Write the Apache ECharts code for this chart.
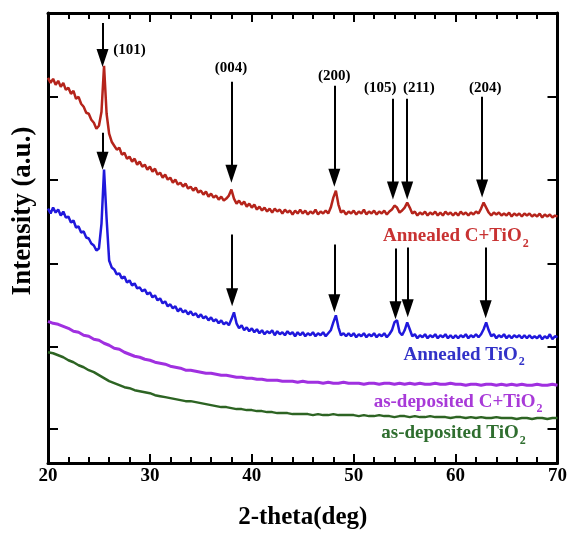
<!DOCTYPE html>
<html>
<head>
<meta charset="utf-8">
<script src="https://cdn.jsdelivr.net/npm/echarts@6/dist/echarts.min.js"></script>
<style>
  html, body { margin: 0; background: #fff; }
  #chart { width: 570px; height: 535px; }
</style>
</head>
<body>
<div id="chart"></div>
<script>
// 2-theta grids (deg): annealed scans read every 0.25, as-deposited every 0.5
const THETA_START = 20;
const FINE_STEP = 0.25;
const COARSE_STEP = 0.5;
const xMajorTicks = [20, 30, 40, 50, 60, 70];
const xMinorTicks = [22, 24, 26, 28, 32, 34, 36, 38, 42, 44, 46, 48, 52, 54, 56, 58, 62, 64, 66, 68];
const yTickValues = [34, 117, 200, 284, 367];

// intensity (a.u.)
const annealedCTiO2 = [
  386, 381, 385, 379, 383, 377, 381, 374, 376, 370, 373, 365, 367, 360, 357, 351, 350, 344, 341, 335,
  338, 352, 398, 350, 330, 322, 318, 314, 316, 309, 311, 305, 307, 302, 305, 299, 302, 297, 299, 294,
  297, 292, 295, 289, 291, 286, 289, 284, 286, 281, 284, 279, 281, 277, 280, 275, 277, 273, 276, 271,
  273, 269, 272, 267, 270, 266, 268, 264, 267, 263, 265, 268, 274, 265, 260, 263, 259, 262, 257, 260,
  256, 259, 254, 257, 253, 256, 252, 255, 251, 255, 252, 254, 250, 254, 251, 253, 249, 253, 250, 254,
  250, 253, 249, 252, 250, 254, 249, 252, 250, 253, 250, 256, 266, 273, 259, 251, 253, 249, 252, 250,
  253, 249, 252, 250, 254, 249, 252, 250, 253, 249, 252, 250, 253, 249, 252, 254, 258, 256, 251, 253,
  256, 261, 256, 250, 252, 248, 251, 249, 252, 248, 251, 249, 252, 248, 251, 248, 252, 249, 251, 248,
  251, 248, 252, 249, 251, 248, 251, 249, 252, 250, 255, 261, 256, 251, 248, 251, 249, 251, 248, 250,
  248, 251, 247, 250, 248, 250, 247, 250, 248, 250, 247, 249, 247, 250, 246, 249, 247, 249, 246, 248, 247
];
const annealedTiO2 = [
  255, 250, 256, 251, 254, 248, 252, 246, 247, 241, 243, 236, 237, 231, 232, 226, 225, 220, 218, 213,
  215, 240, 294, 245, 203, 196, 194, 189, 190, 185, 187, 181, 183, 178, 180, 175, 176, 172, 174, 169,
  171, 166, 168, 163, 165, 160, 162, 157, 159, 155, 157, 152, 155, 151, 153, 149, 152, 148, 150, 146,
  149, 145, 147, 143, 146, 142, 144, 140, 143, 139, 141, 138, 144, 151, 140, 135, 138, 133, 136, 132,
  135, 131, 134, 130, 133, 129, 132, 130, 133, 128, 132, 129, 131, 128, 132, 129, 131, 127, 131, 128,
  131, 127, 130, 128, 131, 127, 130, 128, 131, 127, 130, 133, 141, 148, 136, 128, 130, 127, 130, 127,
  130, 126, 129, 127, 130, 126, 129, 127, 130, 126, 129, 127, 130, 126, 129, 133, 141, 143, 131, 128,
  133, 141, 134, 127, 129, 125, 128, 126, 129, 125, 128, 126, 129, 125, 128, 126, 129, 125, 128, 125,
  128, 125, 128, 126, 129, 125, 128, 126, 129, 126, 129, 134, 141, 133, 127, 129, 125, 128, 126, 129,
  125, 128, 125, 128, 126, 128, 125, 128, 125, 128, 125, 127, 125, 128, 124, 127, 125, 129, 124, 127, 126
];
const asDepCTiO2 = [
  142, 140, 139, 137, 135, 132, 131, 128, 127, 124,
  123, 120, 118, 115, 114, 111, 109, 107, 106, 104,
  103, 101, 100, 99, 97, 96, 95, 93, 93, 92,
  91, 90, 90, 89, 88, 88, 87, 86, 86, 85,
  85, 84, 84, 83, 83, 83, 82, 82, 82, 81,
  82, 81, 81, 81, 80, 81, 80, 80, 81, 80,
  80, 80, 79, 80, 80, 79, 80, 80, 79, 80,
  79, 80, 79, 80, 79, 79, 80, 79, 79, 80,
  79, 79, 78, 79, 79, 78, 79, 79, 78, 79,
  78, 79, 78, 79, 78, 78, 79, 78, 78, 79,
  78
];
const asDepTiO2 = [
  111, 110, 108, 106, 103, 101, 98, 96, 93, 91,
  88, 85, 82, 80, 78, 76, 75, 73, 72, 71,
  70, 68, 67, 66, 65, 64, 63, 62, 62, 61,
  60, 59, 58, 57, 56, 56, 55, 54, 54, 53,
  53, 52, 52, 51, 51, 50, 50, 50, 49, 49,
  49, 49, 48, 49, 48, 48, 49, 48, 48, 48,
  48, 47, 48, 47, 47, 48, 47, 47, 46, 47,
  47, 46, 47, 46, 46, 47, 46, 46, 46, 45,
  46, 46, 45, 46, 45, 46, 45, 45, 46, 45,
  45, 45, 44, 45, 45, 44, 45, 45, 44, 45,
  45
];

// peak arrows: [2-theta, arrow start, arrow tip]
const redArrows = [[25.35, 441, 397], [38.0, 382, 281], [48.1, 378, 277], [53.85, 365, 264], [55.25, 365, 264], [62.6, 367, 266]];
const blueArrows = [[25.35, 331, 294], [38.07, 229, 157], [48.1, 219, 151], [54.1, 215, 144], [55.3, 216, 146], [62.95, 216, 145]];
// peak labels: [text, 2-theta, intensity]
const peakLabels = [["(101)", 28.0, 414], ["(004)", 37.97, 396], ["(200)", 48.1, 388], ["(105)", 52.6, 376], ["(211)", 56.4, 376], ["(204)", 62.9, 376]];

const SERIF = "'Liberation Serif', 'DejaVu Serif', serif";
const HEAD_W = 12;
const HEAD_H = 18;
const Y_MIN = 0;
const Y_MAX = 451;
const MAJOR_LEN = 9;
const MINOR_LEN = 6;

function toPairs(step, values) {
  return values.map((v, i) => [THETA_START + i * step, v]);
}

function arrowLines(arrows) {
  return {
    silent: true,
    symbol: ["none", "triangle"],
    symbolSize: [0, HEAD_H],
    lineStyle: { color: "#000", width: 2, type: "solid" },
    itemStyle: { color: "#000", shadowColor: "rgba(0,0,0,0.35)", shadowBlur: 4, shadowOffsetX: 2, shadowOffsetY: 2 },
    label: { show: false },
    data: arrows.map(([x, top, tip]) => [
      { coord: [x, top] },
      { coord: [x, tip + HEAD_H / 2], symbolSize: [HEAD_W, HEAD_H] },
    ]),
  };
}

// inward x ticks on the bottom and top frame edges
function tickSegments(ticks, len) {
  return ticks.flatMap((v) => [
    [{ coord: [v, Y_MIN] }, { coord: [v, Y_MIN + len] }],
    [{ coord: [v, Y_MAX] }, { coord: [v, Y_MAX - len] }],
  ]);
}

function nameLabel(main, color, x, y) {
  return {
    silent: true,
    symbol: "circle",
    symbolSize: 0,
    data: [{ coord: [x, y], name: main }],
    label: {
      show: true,
      position: "left",
      distance: 0,
      formatter: "{m|{b}}{s|2}",
      rich: {
        m: { fontFamily: SERIF, fontWeight: "bold", fontSize: 19, color, lineHeight: 20, verticalAlign: "top" },
        s: { fontFamily: SERIF, fontWeight: "bold", fontSize: 12, color, lineHeight: 12, padding: [14, 0, 0, 1] },
      },
    },
  };
}

const chart = echarts.init(document.getElementById("chart"), null, { renderer: "canvas" });

const frameAxisX = (position, showLabel) => ({
  type: "value",
  position,
  min: 20,
  max: 70,
  interval: 10,
  axisLine: { show: true, onZero: false, lineStyle: { color: "#000", width: 3 } },
  axisTick: { show: false },
  splitLine: { show: false },
  axisLabel: {
    show: showLabel,
    margin: 4,
    color: "#000",
    fontFamily: SERIF,
    fontWeight: "bold",
    fontSize: 19,
  },
});

const frameAxisY = (position) => ({
  type: "value",
  position,
  min: Y_MIN,
  max: Y_MAX,
  axisLine: { show: true, onZero: false, lineStyle: { color: "#000", width: 3 } },
  axisTick: { show: true, inside: true, length: 10, lineStyle: { color: "#000", width: 2 }, customValues: yTickValues },
  splitLine: { show: false },
  axisLabel: { show: false },
});

chart.setOption({
  animation: false,
  backgroundColor: "#fff",
  grid: { left: 48, right: 10, top: 13, bottom: 71 },
  xAxis: [
    {
      ...frameAxisX("bottom", true),
      name: "2-theta(deg)",
      nameLocation: "middle",
      nameGap: 42,
      nameTextStyle: { color: "#000", fontFamily: SERIF, fontWeight: "bold", fontSize: 25 },
    },
    frameAxisX("top", false),
  ],
  yAxis: [
    {
      ...frameAxisY("left"),
      name: "Intensity (a.u.)",
      nameLocation: "middle",
      nameGap: 11,
      nameTextStyle: { color: "#000", fontFamily: SERIF, fontWeight: "bold", fontSize: 27, padding: [0, 0, 0, 54] },
    },
    frameAxisY("right"),
  ],
  series: [
    {
      name: "as-deposited TiO2",
      type: "line",
      showSymbol: false,
      lineStyle: { color: "#2d6423", width: 2.5 },
      data: toPairs(COARSE_STEP, asDepTiO2),
      markPoint: nameLabel("as-deposited TiO", "#2f6e2f", 66.88, 29),
      markLine: {
        silent: true,
        symbol: ["none", "none"],
        lineStyle: { color: "#000", width: 2, type: "solid" },
        label: { show: false },
        data: [...tickSegments(xMajorTicks, MAJOR_LEN), ...tickSegments(xMinorTicks, MINOR_LEN)],
      },
    },
    {
      name: "as-deposited C+TiO2",
      type: "line",
      showSymbol: false,
      lineStyle: { color: "#a030e0", width: 3 },
      data: toPairs(COARSE_STEP, asDepCTiO2),
      markPoint: nameLabel("as-deposited C+TiO", "#a83ad8", 68.54, 61),
    },
    {
      name: "Annealed TiO2",
      type: "line",
      showSymbol: false,
      lineStyle: { color: "#2018dc", width: 2.5 },
      data: toPairs(FINE_STEP, annealedTiO2),
      markLine: arrowLines(blueArrows),
      markPoint: nameLabel("Annealed TiO", "#3232c8", 66.78, 108),
    },
    {
      name: "Annealed C+TiO2",
      type: "line",
      showSymbol: false,
      lineStyle: { color: "#b5241b", width: 2.5 },
      data: toPairs(FINE_STEP, annealedCTiO2),
      markLine: arrowLines(redArrows),
      markPoint: {
        silent: true,
        symbol: "circle",
        symbolSize: 0,
        label: {
          show: true,
          position: "inside",
          formatter: "{b}",
          color: "#000",
          fontFamily: SERIF,
          fontWeight: "bold",
          fontSize: 15,
        },
        data: peakLabels.map(([text, x, y]) => ({ name: text, coord: [x, y] })),
      },
    },
    {
      name: "Annealed C+TiO2 label",
      type: "line",
      data: [],
      markPoint: nameLabel("Annealed C+TiO", "#c83232", 67.17, 227),
    },
  ],
});
</script>
</body>
</html>
